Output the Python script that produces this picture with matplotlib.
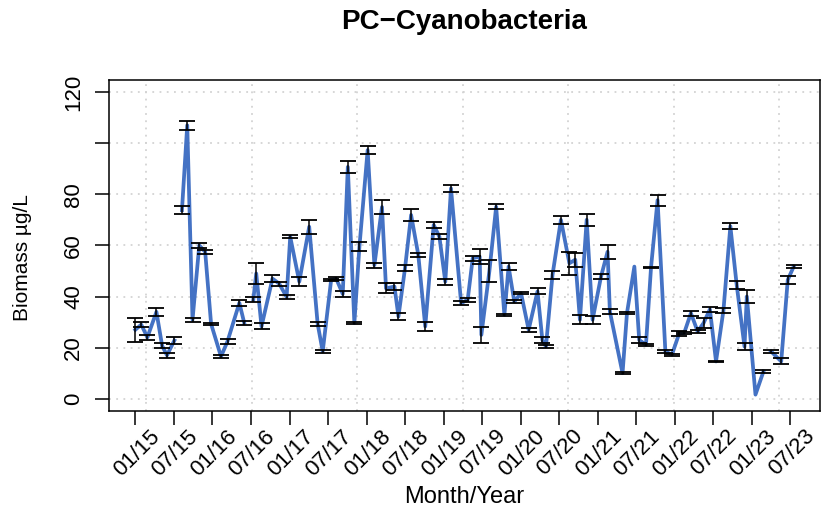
import numpy as np
import pandas as pd
import matplotlib
matplotlib.use('Agg')
import matplotlib.pyplot as plt
import matplotlib.dates as mdates
from matplotlib.transforms import ScaledTranslation

plt.rcParams['font.family'] = ['Liberation Sans', 'DejaVu Sans']

# sampling dates, mean biomass and standard deviation
dates = [
    '2015-01-14', '2015-02-11', '2015-03-12', '2015-04-24', '2015-05-21', '2015-06-13', '2015-07-18',
    '2015-08-23', '2015-09-17', '2015-10-12', '2015-11-13', '2015-12-11', '2016-01-08', '2016-02-24',
    '2016-03-26', '2016-05-21', '2016-06-13',
    '2016-07-26', '2016-08-09', '2016-09-03', '2016-10-25', '2016-11-26', '2016-12-31', '2017-01-17',
    '2017-03-01', '2017-04-17', '2017-05-27', '2017-06-20', '2017-07-30', '2017-08-23', '2017-09-23',
    '2017-10-17', '2017-11-17', '2017-12-11', '2018-01-19', '2018-02-20', '2018-03-28', '2018-04-16',
    '2018-05-26', '2018-06-14', '2018-07-15', '2018-08-13', '2018-09-16', '2018-10-19', '2018-11-28',
    '2018-12-25', '2019-01-22', '2019-02-18', '2019-04-07', '2019-05-08', '2019-06-01', '2019-07-04',
    '2019-07-12', '2019-08-19', '2019-09-20', '2019-10-29', '2019-11-18', '2019-12-15', '2020-01-16',
    '2020-02-21', '2020-04-03', '2020-04-26', '2020-05-13', '2020-06-13', '2020-07-23', '2020-09-01',
    '2020-09-29', '2020-10-21', '2020-11-22', '2020-12-20', '2021-01-29', '2021-03-01', '2021-03-12',
    '2021-05-11', '2021-06-01', '2021-07-06', '2021-07-29', '2021-08-30', '2021-09-23', '2021-10-24',
    '2021-11-30', '2021-12-31', '2022-02-04', '2022-02-27', '2022-03-31', '2022-05-02', '2022-05-30',
    '2022-06-29', '2022-07-28', '2022-09-01', '2022-10-04', '2022-11-03', '2022-12-10', '2022-12-21',
    '2023-01-31', '2023-03-10',
    '2023-04-15', '2023-06-02', '2023-07-03', '2023-07-31',
]
biomass = [
    27, 29, 24, 34, 20.7, 17, 22.8,
    73.8, 107, 30.9, 60, 57.5, 29.3, 16.5, 22.5, 37.5, 29.7,
    38.7, 49, 28.3, 47, 45, 39.8, 63.4, 45.8, 67.3, 29.3, 18.5, 46.5, 47, 41, 90.7, 29.6,
    59.5, 97.3, 52.3, 75, 43.2, 43.9, 32.2, 51, 71.9, 56.3, 28.3, 68, 63.4, 45.8, 82.3,
    37.4, 38.7, 55, 55.6, 25, 50, 75.1, 32.8, 51.7, 38, 41.3, 27, 42, 23, 20.4, 48.4,
    70, 53, 54.4, 30.9, 70, 30.9, 47.8, 57.5, 34.1, 10, 33.5, 51.7, 23, 21.1, 51.4,
    77.7, 18.5, 17.2, 25.7, 25.7, 33.5, 26.3, 29.6, 35, 14.6, 34.4, 67.5, 44.5, 20.4,
    40, 1.6, 10.7,
    18.5, 14.6, 46.5, 51.7,
]
sd = [
    4.7, 1, 1, 1.5, 1, 1, 1.2,
    1.6, 1.8, 0.8, 1, 0.7, 0.3, 0.7, 1, 1.2, 0.7,
    1, 4, 1.2, 1.5, 0.7, 0.7, 0.5, 1.7, 2.8, 0.7, 0.7, 0.4, 0.5, 1.2, 2.3, 0.5,
    1.7, 1.6, 1, 2.7, 2, 1.5, 1.5, 1.2, 2.3, 0.8, 1.6, 1, 1, 1.2, 1.4,
    0.7, 0.7, 1, 3, 3, 4.3, 1, 0.3, 1.5, 0.7, 0.5, 0.7, 1.2, 1, 0.7, 1.7,
    1.5, 4.5, 2.7, 1.8, 2.3, 1.6, 1, 2.7, 1, 0.3, 0.3, 0, 1, 0.5, 0.3,
    2.1, 0.5, 0.5, 1, 0.5, 1, 0.7, 2, 1, 0.3, 1, 1.2, 1.5, 1.5,
    2.5, 0, 0.7,
    0.5, 1.2, 1.5, 0.5,
]
# the line is broken after these sampling dates
breaks_after = ['2015-07-18', '2016-06-13', '2023-03-10']

x = mdates.date2num(pd.to_datetime(dates))
y = np.array(biomass, dtype=float)
err = np.array(sd, dtype=float)

W, H = 821, 511
fig = plt.figure(figsize=(W / 100, H / 100), dpi=100)
ax = fig.add_axes([109 / W, (H - 411) / H, (820 - 109) / W, (411 - 79.8) / H])

# R-style 4% range extension
xr = x.max() - x.min()
ax.set_xlim(x.min() - 0.04 * xr, x.max() + 0.04 * xr)
ax.set_ylim(0 - 0.04 * 120, 120 + 0.04 * 120)

# dotted grid
grid_kw = dict(color='#d3d3d3', lw=1.3, ls=(0, (1, 3)), zorder=1)
for gy in range(0, 121, 20):
    ax.axhline(gy, **grid_kw)
for gx in range(16500, 20000, 500):
    ax.axvline(gx, **grid_kw)

# series, split into segments at the gaps
cut = [int(np.where(x == mdates.date2num(pd.Timestamp(d)))[0][0]) + 1 for d in breaks_after]
for xs, ys in zip(np.split(x, cut), np.split(y, cut)):
    ax.plot(xs, ys, color='#4472c4', lw=2.7, solid_joinstyle='round', zorder=2)

m = err > 0
ax.errorbar(x[m], y[m], yerr=err[m], fmt='none', ecolor='black',
            elinewidth=1.1, capsize=5.5, capthick=1.3, zorder=3)

# axes
for s in ax.spines.values():
    s.set_linewidth(1.1)
ax.tick_params(axis='both', length=10, width=1.1, labelsize=16, color='black')

ax.set_yticks(range(0, 121, 20))
ax.set_yticklabels(['0', '20', '40', '60', '80', '', '120'], rotation=90, va='center')
ax.tick_params(axis='y', pad=8)

ticks = pd.date_range(start=dates[0], end=dates[-1], freq=pd.DateOffset(months=6))
ax.set_xticks(mdates.date2num(ticks))
ax.set_xticklabels([t.strftime('%m/%y') for t in ticks], rotation=45,
                   ha='right', va='center', rotation_mode='anchor')
ax.tick_params(axis='x', pad=6)
shift = ScaledTranslation(0.21, 0, fig.dpi_scale_trans)
for lab in ax.get_xticklabels():
    lab.set_transform(lab.get_transform() + shift)

fig.text(464.5 / W, 1 - 22 / H, 'PC\u2212Cyanobacteria', ha='center', va='center',
         fontsize=20, fontweight='bold')
fig.text(464.5 / W, 1 - 497 / H, 'Month/Year', ha='center', va='center', fontsize=17)
fig.text(22 / W, 1 - 258 / H, 'Biomass \u00b5g/L', ha='center', va='center',
         rotation=90, fontsize=15)

fig.savefig('out.png', dpi=100)
